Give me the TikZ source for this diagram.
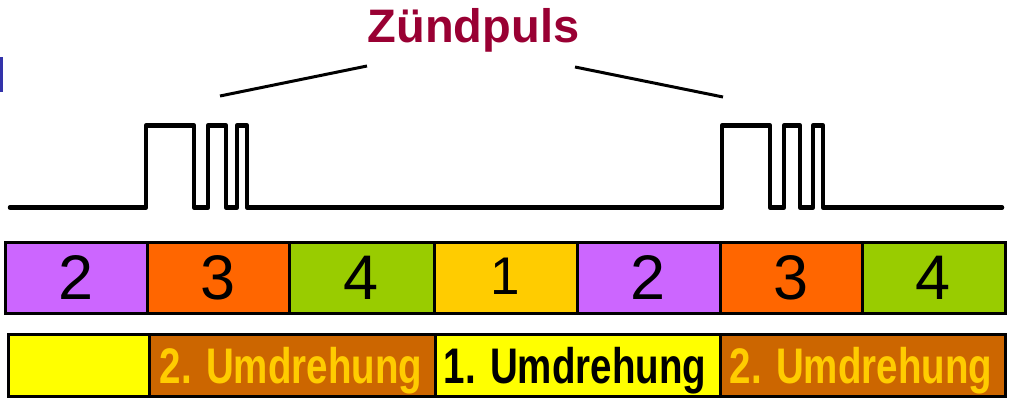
\documentclass[tikz,border=0pt]{standalone}
\usepackage{fontspec}
\usepackage{graphicx}
\setmainfont{Liberation Sans}
\definecolor{cpurple}{HTML}{CC66FF}
\definecolor{corange}{HTML}{FF6600}
\definecolor{cgreen}{HTML}{99CC00}
\definecolor{cgold}{HTML}{FFCC00}
\definecolor{cyellow}{HTML}{FFFF00}
\definecolor{cbrown}{HTML}{CC6600}
\definecolor{ctitle}{HTML}{990033}
\definecolor{cblue}{HTML}{3333AA}
\tikzset{
  cell/.style={draw=black, line width=3pt, inner sep=0pt, outer sep=0pt},
  digit/.style={font=\fontsize{63}{63}\selectfont},
  turn/.style={font=\fontsize{50}{50}\selectfont\bfseries, anchor=base, inner sep=0pt},
  wave/.style={line width=4.5pt, line join=round, line cap=round},
  leader/.style={line width=3pt},
}
\newcommand{\narrowtxt}[1]{\scalebox{0.77}[1]{#1}}
\begin{document}
\begin{tikzpicture}[x=1pt,y=-1pt]
\useasboundingbox (0,0) rectangle (1011,404);
% small blue mark at left edge
\fill[cblue] (0,57) rectangle (2.5,92);
% title
\node[anchor=base, inner sep=0pt, text=ctitle, font=\fontsize{47}{47}\selectfont\bfseries] (title) at (473.5,42.5) {Zündpuls};
% leader lines
\coordinate (l1) at (220,96);
\coordinate (l2) at (367,66);
\coordinate (r1) at (575,67);
\coordinate (r2) at (723,97);
\draw[leader] (l1) -- (l2);
\draw[leader] (r1) -- (r2);
% waveform
\draw[wave] (10,207.5) -- (146,207.5) -- (146,125.5) -- (194,125.5) -- (194,207.5) -- (208,207.5) -- (208,125.5) -- (226,125.5) -- (226,207.5) -- (237,207.5) -- (237,125.5) -- (247,125.5) -- (247,207.5)
  -- (722,207.5) -- (722,125.5) -- (770,125.5) -- (770,207.5) -- (784,207.5) -- (784,125.5) -- (800,125.5) -- (800,207.5) -- (813,207.5) -- (813,125.5) -- (823,125.5) -- (823,207.5) -- (1002,207.5);
% cylinder row
\node[cell, fill=cpurple, minimum width=142pt, minimum height=71pt] (c1) at (76,277.5) {};
\node[cell, fill=corange, minimum width=142pt, minimum height=71pt] (c2) at (218,277.5) {};
\node[cell, fill=cgreen, minimum width=145pt, minimum height=71pt] (c3) at (361.5,277.5) {};
\node[cell, fill=cgold, minimum width=143pt, minimum height=71pt] (c4) at (505.5,277.5) {};
\node[cell, fill=cpurple, minimum width=143pt, minimum height=71pt] (c5) at (648.5,277.5) {};
\node[cell, fill=corange, minimum width=142pt, minimum height=71pt] (c6) at (791,277.5) {};
\node[cell, fill=cgreen, minimum width=143pt, minimum height=71pt] (c7) at (933.5,277.5) {};
\node[digit] (d1) at (c1.center) {2};
\node[digit] (d2) at (c2.center) {3};
\node[digit] (d3) at (c3.center) {4};
\node[font=\fontsize{53}{53}\selectfont] (d4) at ([yshift=1.5pt]c4.center) {1};
\node[digit] (d5) at (c5.center) {2};
\node[digit] (d6) at (c6.center) {3};
\node[digit] (d7) at (c7.center) {4};
% revolution row
\node[cell, fill=cyellow, minimum width=141pt, minimum height=62pt] (u1) at (78.5,365) {};
\node[cell, fill=cbrown, minimum width=286pt, minimum height=62pt] (u2) at (292,365) {};
\node[cell, fill=cyellow, minimum width=285pt, minimum height=62pt] (u3) at (577.5,365) {};
\node[cell, fill=cbrown, minimum width=285pt, minimum height=62pt] (u4) at (862.5,365) {};
\node[turn, text=cgold] (t2) at (291,383) {\narrowtxt{2. Umdrehung}};
\node[turn, text=black] (t3) at (575,383) {\narrowtxt{1. Umdrehung}};
\node[turn, text=cgold] (t4) at (861,383) {\narrowtxt{2. Umdrehung}};
\end{tikzpicture}
\end{document}
